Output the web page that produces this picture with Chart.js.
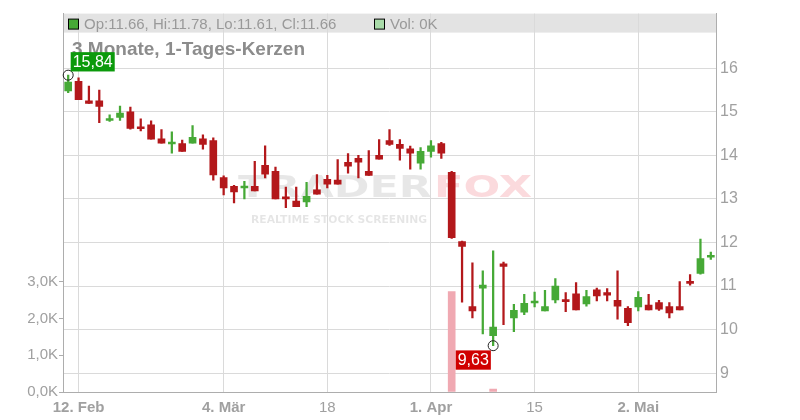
<!DOCTYPE html>
<html><head><meta charset="utf-8">
<script src="https://cdn.jsdelivr.net/npm/chart.js@4.4.0/dist/chart.umd.min.js"></script>
<style>html,body{margin:0;padding:0;background:#fff}#wrap{width:800px;height:420px}</style>
</head><body><div id="wrap"><canvas id="c" width="800" height="420"></canvas></div>
<script>
const dates = ["9. Feb","12. Feb","13. Feb","14. Feb","15. Feb","16. Feb","19. Feb","20. Feb","21. Feb","22. Feb","23. Feb","26. Feb","27. Feb","28. Feb","29. Feb",
"4. Mär","5. Mär","6. Mär","7. Mär","8. Mär","11. Mär","12. Mär","13. Mär","14. Mär","15. Mär","18. Mär","19. Mär","20. Mär","21. Mär","22. Mär","25. Mär","26. Mär","27. Mär","28. Mär","29. Mär",
"1. Apr","2. Apr","3. Apr","4. Apr","5. Apr","8. Apr","9. Apr","10. Apr","11. Apr","12. Apr","15. Apr","16. Apr","17. Apr","18. Apr","19. Apr","22. Apr","23. Apr","24. Apr","25. Apr","26. Apr",
"2. Mai","3. Mai","6. Mai","7. Mai","8. Mai","9. Mai","10. Mai","13. Mai"];
const open  = [15.48,15.70,15.25,15.25,14.80,14.87,15.00,14.63,14.70,14.38,14.26,14.27,14.28,14.38,14.34,13.49,13.29,13.25,13.29,13.77,13.63,13.04,12.95,12.93,13.21,13.45,13.43,13.84,13.93,13.63,14.00,14.34,14.25,14.15,13.82,14.09,14.27,13.61,12.02,10.53,10.95,9.86,11.51,10.27,10.40,10.61,10.43,10.68,10.65,10.82,10.59,10.91,10.85,10.67,10.49,10.52,10.56,10.62,10.53,10.53,11.10,11.29,11.66];
const high  = [15.84,15.78,15.59,15.50,14.93,15.13,15.11,14.84,14.79,14.59,14.54,14.35,14.68,14.47,14.40,13.53,13.31,13.40,13.86,14.22,13.73,13.27,13.27,13.38,13.56,13.54,13.90,14.04,14.00,14.11,14.36,14.59,14.36,14.21,14.18,14.34,14.30,13.63,12.03,11.53,11.35,11.81,11.55,10.58,10.81,10.86,10.90,11.17,10.85,11.08,10.90,10.95,10.94,11.35,10.53,10.87,10.81,10.67,10.62,11.10,11.26,12.08,11.78];
const low   = [15.44,15.28,15.19,14.75,14.78,14.80,14.60,14.56,14.37,14.28,14.05,14.09,14.28,14.14,13.43,13.09,12.91,13.00,13.18,13.48,13.00,12.80,12.82,12.82,13.11,13.25,13.34,13.59,13.48,13.54,13.91,14.23,13.89,13.68,13.68,13.96,13.93,12.09,10.63,10.27,9.90,9.63,10.11,9.95,10.34,10.52,10.43,10.61,10.41,10.45,10.54,10.66,10.66,10.24,10.09,10.43,10.45,10.44,10.27,10.45,11.02,11.27,11.61];
const close = [15.68,15.28,15.19,15.12,14.81,14.97,14.62,14.61,14.37,14.28,14.27,14.09,14.41,14.25,13.55,13.25,13.16,13.26,13.18,13.57,13.00,13.00,12.82,13.06,13.11,13.34,13.34,13.75,13.84,13.54,13.91,14.25,14.16,14.05,14.09,14.22,14.05,12.11,11.91,10.43,11.02,10.06,11.45,10.44,10.60,10.65,10.53,11.00,10.64,10.45,10.76,10.77,10.79,10.54,10.16,10.74,10.45,10.47,10.38,10.45,11.06,11.63,11.66];
const volumeK = [0,0,0,0,0,0,0,0,0,0,0,0,0,0,0,0,0,0,0,0,0,0,0,0,0,0,0,0,0,0,0,0,0,0,0,0,0,2.73,0,0,0,0.08,0,0,0,0,0,0,0,0,0,0,0,0,0,0,0,0,0,0,0,0,0];
const tickIdx  = [1,15,25,35,45,55];
const tickText = ["12. Feb","4. Mär","18","1. Apr","15","2. Mai"];
const priceTicks = [9,10,11,12,13,14,15,16];
const volTicks = [0,1,2,3];
const titleText = "3 Monate, 1-Tages-Kerzen";

const FONT = "'Liberation Sans', Arial, sans-serif";
Chart.defaults.font.family = FONT;
const UP = '#46a936', DOWN = '#b3181b', VOL = '#f0a9b2', GRID = '#dadada', AXIS = '#adadad', LBL = '#a0a0a0';
const colors = close.map((c, i) => c >= open[i] ? UP : DOWN);
const bodies = open.map((o, i) => [o, close[i]]);
const wicks = low.map((l, i) => [l, high[i]]);
const volBars = volumeK.map(v => v > 0 ? v : null);

const bgPlugin = {
  id: 'bg',
  beforeDraw(chart) {
    const {ctx, chartArea: a} = chart;
    ctx.save();
    ctx.fillStyle = '#e3e3e3';
    ctx.fillRect(a.left, a.top, a.right - a.left, 19);
    function fitText(txt, font, color, x0, x1, base) {
      ctx.font = font;
      const w = ctx.measureText(txt).width;
      ctx.save();
      ctx.translate(x0, base);
      ctx.scale((x1 - x0) / w, 1);
      ctx.fillStyle = color;
      ctx.textBaseline = 'alphabetic';
      ctx.fillText(txt, 0, 0);
      ctx.restore();
    }
    fitText('TRADER', "bold 30px 'DejaVu Sans'", 'rgba(0,0,0,0.095)', 238, 432, 197);
    fitText('FOX', "bold 30px 'DejaVu Sans'", 'rgba(235,70,85,0.2)', 434, 532, 197);
    fitText('REALTIME STOCK SCREENING', "bold 10.5px 'DejaVu Sans'", 'rgba(0,0,0,0.1)', 251, 427, 223);
    ctx.restore();
  }
};

const overlayPlugin = {
  id: 'overlay',
  afterDraw(chart) {
    const {ctx, chartArea: a} = chart;
    const xs = chart.scales.x, ys = chart.scales.y;
    const n = close.length - 1;
    ctx.save();
    ctx.fillStyle = UP; ctx.fillRect(a.left + 5.5, a.top + 5.5, 10, 10);
    ctx.strokeStyle = '#000'; ctx.lineWidth = 1; ctx.strokeRect(a.left + 5.5, a.top + 5.5, 10, 10);
    ctx.font = '15px ' + FONT; ctx.fillStyle = '#999'; ctx.textBaseline = 'alphabetic';
    ctx.fillText(`Op:${open[n].toFixed(2)}, Hi:${high[n].toFixed(2)}, Lo:${low[n].toFixed(2)}, Cl:${close[n].toFixed(2)}`, a.left + 21, a.top + 15.5);
    ctx.fillStyle = '#a9dba9'; ctx.fillRect(374.5, a.top + 5.5, 10, 10);
    ctx.strokeRect(374.5, a.top + 5.5, 10, 10);
    ctx.fillStyle = '#999';
    ctx.fillText(`Vol: ${volumeK[n]}K`, 390, a.top + 15.5);
    ctx.font = 'bold 19px ' + FONT; ctx.fillStyle = '#8c8c8c';
    ctx.fillText(titleText, 72, 54.5);
    let iMax = 0, iMin = 0;
    high.forEach((v, i) => { if (v > high[iMax]) iMax = i; });
    low.forEach((v, i) => { if (v < low[iMin]) iMin = i; });
    function marker(i, v) {
      const cx = xs.getPixelForValue(i), cy = ys.getPixelForValue(v);
      ctx.beginPath(); ctx.arc(cx, cy, 5, 0, Math.PI * 2);
      ctx.strokeStyle = '#222'; ctx.lineWidth = 1; ctx.stroke();
      return [cx, cy];
    }
    function box(txt, bg, x, y, alignRight) {
      ctx.font = '16px ' + FONT;
      const w = ctx.measureText(txt).width + 4, h = 19.3;
      const bx = alignRight ? x - w : x;
      ctx.fillStyle = bg; ctx.fillRect(bx, y, w, h);
      ctx.fillStyle = '#fff'; ctx.textBaseline = 'middle'; ctx.textAlign = 'left';
      ctx.fillText(txt, bx + 2, y + h / 2 + 1);
    }
    const [mx, my] = marker(iMax, high[iMax]);
    box(high[iMax].toFixed(2).replace('.', ','), '#0b9a0b', mx + 2.5, my - 23, false);
    const [nx, ny] = marker(iMin, low[iMin]);
    box(low[iMin].toFixed(2).replace('.', ','), '#d00000', nx - 2.3, ny + 4.7, true);
    ctx.restore();
  }
};

new Chart(document.getElementById('c'), {
  type: 'bar',
  data: {
    labels: dates,
    datasets: [
      {label: 'Kerze', data: bodies, backgroundColor: colors, barThickness: 7, minBarLength: 2, yAxisID: 'y', order: 1, grouped: false},
      {label: 'Docht', data: wicks, backgroundColor: colors, barThickness: 1.6, yAxisID: 'y', order: 2, grouped: false},
      {label: 'Vol', data: volBars, backgroundColor: VOL, barThickness: 7, yAxisID: 'yVol', order: 3, grouped: false}
    ]
  },
  options: {
    responsive: false, animation: false,
    layout: {padding: {top: 11, left: 0, right: 0, bottom: 0}},
    plugins: {legend: {display: false}, tooltip: {enabled: false}},
    scales: {
      x: {
        type: 'category', offset: true,
        grid: {offset: false, color: GRID, drawTicks: false},
        border: {color: AXIS},
        ticks: {autoSkip: false, maxRotation: 0, padding: 7, color: LBL,
          font: (c) => ({size: 15, family: FONT, weight: (tickText[c.index] || '').includes('.') ? 'bold' : 'normal'}),
          callback: (v, i) => tickText[i]},
        afterBuildTicks: (s) => { s.ticks = tickIdx.map(v => ({value: v})); },
        afterFit: (s) => { s.height = 28; }
      },
      y: {
        position: 'right', min: 8.567, max: 17.253,
        afterBuildTicks: (s) => { s.ticks = priceTicks.map(v => ({value: v})); },
        grid: {color: GRID, drawTicks: false},
        border: {color: AXIS},
        ticks: {padding: 4, color: LBL, font: {size: 16}},
        afterFit: (s) => { s.width = 84; }
      },
      yVol: {
        position: 'left', min: 0, max: 10.28,
        afterBuildTicks: (s) => { s.ticks = volTicks.map(v => ({value: v})); },
        grid: {drawOnChartArea: false, tickLength: 4, tickColor: AXIS},
        border: {color: AXIS},
        ticks: {padding: 1, color: LBL, font: {size: 15}, callback: (v) => v.toFixed(1).replace('.', ',') + 'K'},
        afterFit: (s) => { s.width = 63; }
      }
    }
  },
  plugins: [bgPlugin, overlayPlugin]
});
</script></body></html>
